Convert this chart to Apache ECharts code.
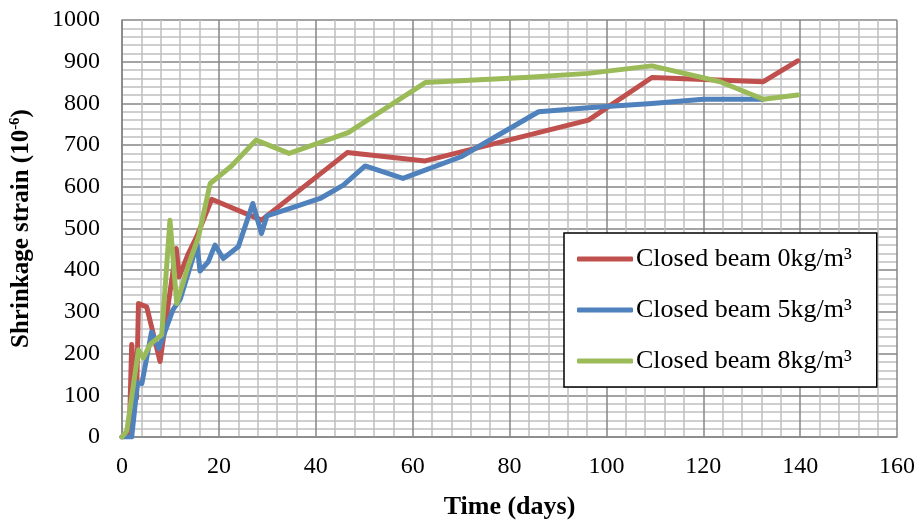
<!DOCTYPE html>
<html>
<head>
<meta charset="utf-8">
<script src="https://cdn.jsdelivr.net/npm/echarts@6/dist/echarts.min.js"></script>
<style>
  html, body { margin: 0; padding: 0; background: #fff; }
  #chart { width: 921px; height: 525px; }
</style>
</head>
<body>
<div id="chart"></div>
<script>
// Shrinkage strain of closed beams by fibre dosage
const seriesNames = ['Closed beam 0kg/m³', 'Closed beam 5kg/m³', 'Closed beam 8kg/m³'];

const days0 = [0, 1.5, 2, 3, 3.4, 5.1, 7.85, 11.2, 11.8, 13.7, 15.4, 18.5, 28.8, 46.5, 62.6, 96.3, 109.4, 132.4, 139.5];
const strain0 = [0, 5, 222, 93, 320, 312, 181, 452, 384, 440, 480, 570, 520, 682, 662, 760, 862, 852, 902];

const days5 = [0, 2, 3.2, 4.1, 6.1, 7.6, 10.5, 12, 15.5, 16.1, 17.8, 19.2, 20.9, 24, 27, 28.8, 29.9, 34.7, 40.9, 45.7, 50.2, 58, 70, 86, 97, 109.4, 120, 132.4];
const strain5 = [0, 0, 130, 128, 252, 212, 305, 330, 462, 398, 420, 460, 428, 456, 560, 488, 530, 548, 572, 604, 650, 620, 672, 780, 790, 800, 810, 810];

const days8 = [0, 1, 3.4, 4.4, 5.8, 8.2, 9.9, 11.3, 13.7, 15.8, 18.2, 22.6, 27.7, 34.5, 46.7, 62.6, 84, 96.3, 109.4, 123.5, 132.4, 139.5];
const strain8 = [0, 15, 209, 189, 222, 245, 520, 320, 412, 480, 608, 650, 712, 680, 730, 850, 863, 872, 890, 852, 810, 820];

const colors = ['#C0504D', '#4F81BD', '#9BBB59'];

function pairs(xs, ys) {
  return xs.map((x, i) => [x, ys[i]]);
}

const FONT = '"Liberation Serif", "Times New Roman", serif';
const MAJOR = '#868686';
const MINOR = '#c0c0c0';

const chart = echarts.init(document.getElementById('chart'), null, { renderer: 'canvas' });

const lineSeries = [pairs(days0, strain0), pairs(days5, strain5), pairs(days8, strain8)].map((data, i) => ({
  name: seriesNames[i],
  type: 'line',
  data: data,
  symbol: 'none',
  smooth: false,
  color: colors[i],
  lineStyle: { width: 5, color: colors[i], cap: 'round', join: 'round' },
  z: 3 + i
}));

chart.setOption({
  animation: false,
  backgroundColor: '#ffffff',
  grid: { left: 122, right: 24, top: 20, bottom: 88, containLabel: false, outerBoundsMode: 'none' },
  xAxis: {
    type: 'value',
    min: 0, max: 160, interval: 20,
    name: 'Time (days)',
    nameLocation: 'middle',
    nameGap: 57,
    nameTextStyle: { fontFamily: FONT, fontWeight: 'bold', fontSize: 26, color: '#000' },
    axisLine: { show: true, lineStyle: { color: MAJOR, width: 1.5 } },
    axisTick: { show: false },
    axisLabel: { fontFamily: FONT, fontSize: 24, color: '#000', margin: 18 },
    splitLine: { show: true, lineStyle: { color: MAJOR, width: 1.5 } },
    minorTick: { show: false, splitNumber: 5 },
    minorSplitLine: { show: true, lineStyle: { color: MINOR, width: 1.5 } }
  },
  yAxis: {
    type: 'value',
    min: 0, max: 1000, interval: 100,
    name: '{b|Shrinkage strain (10}{s|-6}{b|)}',
    nameLocation: 'middle',
    nameGap: 86,
    nameRotate: 90,
    nameTextStyle: {
      fontFamily: FONT, fontWeight: 'bold', fontSize: 25, color: '#000',
      rich: {
        b: { fontFamily: FONT, fontWeight: 'bold', fontSize: 25, color: '#000', lineHeight: 28 },
        s: { fontFamily: FONT, fontWeight: 'bold', fontSize: 15, color: '#000', verticalAlign: 'top', lineHeight: 28 }
      }
    },
    axisLine: { show: true, lineStyle: { color: MAJOR, width: 1.5 } },
    axisTick: { show: false },
    axisLabel: {
      fontFamily: FONT, fontSize: 24, color: '#000', margin: 22,
      formatter: (v) => String(v)
    },
    splitLine: { show: true, lineStyle: { color: MAJOR, width: 1.5 } },
    minorTick: { show: false, splitNumber: 5 },
    minorSplitLine: { show: true, lineStyle: { color: MINOR, width: 1.5 } }
  },
  legend: {
    orient: 'vertical',
    left: 564,
    top: 233,
    padding: [13, 25, 13, 13],
    itemGap: 25,
    itemWidth: 56,
    itemHeight: 5,
    icon: 'roundRect',
    backgroundColor: '#ffffff',
    borderColor: '#000',
    borderWidth: 1.5,
    textStyle: { fontFamily: FONT, fontSize: 26, color: '#000', padding: [0, 0, 0, -2] },
    data: seriesNames
  },
  series: lineSeries
});
</script>
</body>
</html>
